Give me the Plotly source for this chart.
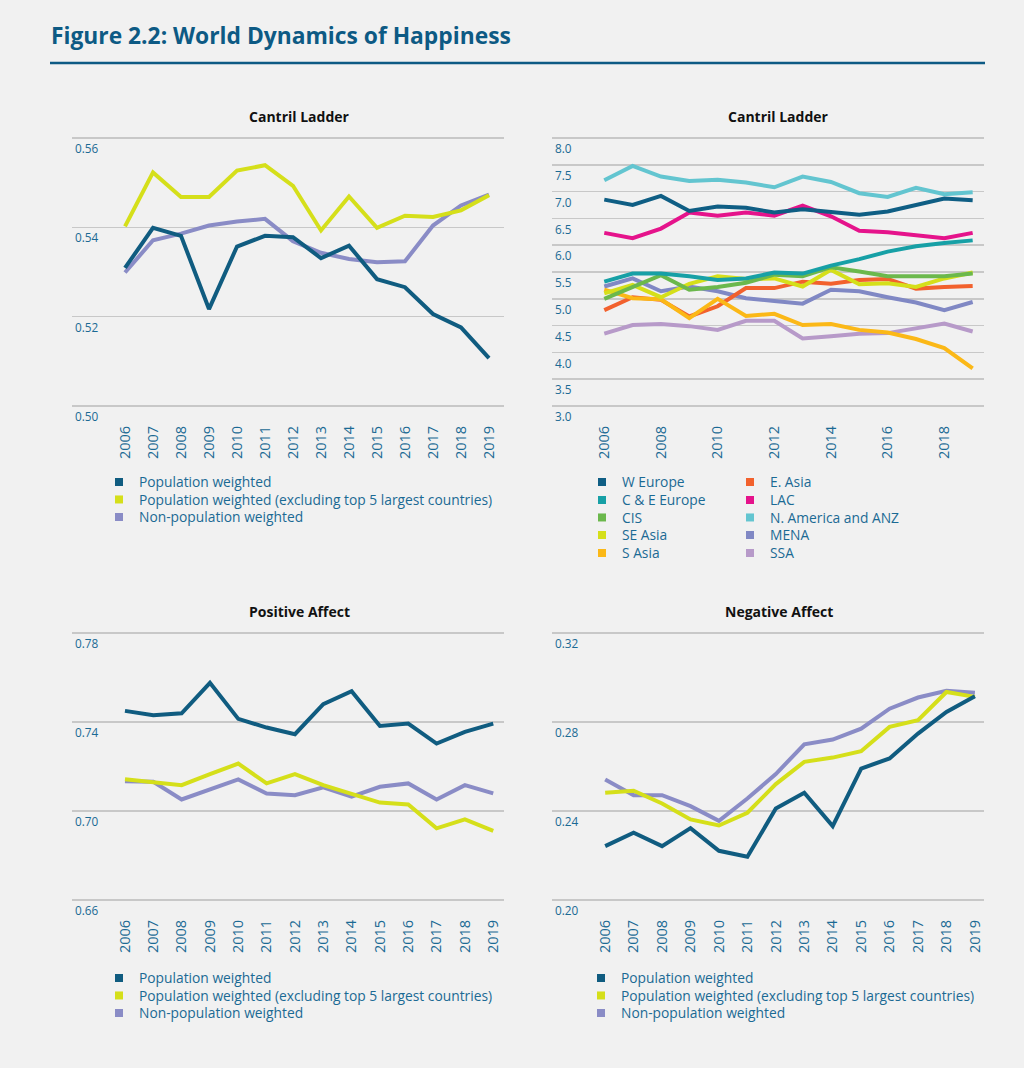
import plotly.graph_objects as go

W, H = 1024, 1068
FONT = "Open Sans"
TXT = "#1b6a94"
BG = "#f1f1f1"
GRID = "#c8c8c8"

years = list(range(2006, 2020))

# ---- Cantril Ladder (global) ----
cl_pop = [0.5309, 0.5399, 0.5381, 0.5217, 0.5357, 0.5381, 0.5378, 0.5331, 0.5359, 0.5284, 0.5266, 0.5206, 0.5176, 0.5107]
cl_excl = [0.5402, 0.5523, 0.5468, 0.5468, 0.5527, 0.5539, 0.5493, 0.5393, 0.5469, 0.5399, 0.5426, 0.5423, 0.5438, 0.5472]
cl_nonpop = [0.5299, 0.5371, 0.5386, 0.5404, 0.5413, 0.5419, 0.5369, 0.5343, 0.5329, 0.5322, 0.5324, 0.5404, 0.5449, 0.5473]
cl_ticks = [0.50, 0.52, 0.54, 0.56]

# ---- Cantril Ladder by region ----
w_europe = [6.85, 6.75, 6.92, 6.64, 6.72, 6.70, 6.61, 6.67, 6.62, 6.57, 6.63, 6.75, 6.87, 6.84]
ce_europe = [5.32, 5.47, 5.47, 5.42, 5.35, 5.38, 5.49, 5.47, 5.62, 5.74, 5.88, 5.98, 6.04, 6.09]
cis = [5.00, 5.23, 5.44, 5.17, 5.22, 5.30, 5.45, 5.42, 5.59, 5.51, 5.42, 5.42, 5.42, 5.47]
se_asia = [5.10, 5.26, 5.03, 5.28, 5.42, 5.37, 5.38, 5.23, 5.54, 5.27, 5.29, 5.22, 5.38, 5.49]
s_asia = [5.17, 5.01, 4.99, 4.64, 5.00, 4.68, 4.72, 4.51, 4.53, 4.42, 4.37, 4.25, 4.08, 3.70]
e_asia = [4.79, 5.03, 4.98, 4.67, 4.86, 5.20, 5.20, 5.32, 5.28, 5.35, 5.37, 5.19, 5.22, 5.24]
lac = [6.23, 6.13, 6.31, 6.61, 6.55, 6.61, 6.55, 6.74, 6.54, 6.27, 6.24, 6.18, 6.13, 6.23]
nam_anz = [7.21, 7.48, 7.28, 7.20, 7.22, 7.17, 7.08, 7.28, 7.18, 6.97, 6.90, 7.07, 6.95, 6.99]
mena = [5.23, 5.38, 5.14, 5.23, 5.14, 5.01, 4.96, 4.91, 5.17, 5.14, 5.03, 4.93, 4.79, 4.94]
ssa = [4.35, 4.51, 4.53, 4.49, 4.42, 4.59, 4.59, 4.26, 4.30, 4.35, 4.36, 4.45, 4.54, 4.39]
region_ticks = [3.0, 3.5, 4.0, 4.5, 5.0, 5.5, 6.0, 6.5, 7.0, 7.5, 8.0]
region_xticks = [2006, 2008, 2010, 2012, 2014, 2016, 2018]

# ---- Positive Affect ----
pa_pop = [0.7450, 0.7430, 0.7439, 0.7576, 0.7414, 0.7375, 0.7345, 0.7480, 0.7538, 0.7382, 0.7393, 0.7303, 0.7356, 0.7393]
pa_excl = [0.7143, 0.7128, 0.7116, 0.7166, 0.7213, 0.7124, 0.7166, 0.7116, 0.7076, 0.7038, 0.7029, 0.6922, 0.6962, 0.6911]
pa_nonpop = [0.7134, 0.7131, 0.7052, 0.7097, 0.7142, 0.7079, 0.7071, 0.7106, 0.7064, 0.7109, 0.7124, 0.7052, 0.7116, 0.7079]
pa_ticks = [0.66, 0.70, 0.74, 0.78]

# ---- Negative Affect ----
na_pop = [0.2242, 0.2302, 0.2242, 0.2323, 0.2221, 0.2194, 0.2411, 0.2482, 0.2332, 0.2591, 0.2636, 0.2748, 0.2845, 0.2916]
na_excl = [0.2482, 0.2491, 0.2434, 0.2362, 0.2335, 0.2392, 0.2521, 0.2621, 0.2640, 0.2669, 0.2778, 0.2808, 0.2935, 0.2913]
na_nonpop = [0.2542, 0.2471, 0.2471, 0.2422, 0.2356, 0.2456, 0.2566, 0.2700, 0.2721, 0.2770, 0.2860, 0.2910, 0.2940, 0.2931]
na_ticks = [0.20, 0.24, 0.28, 0.32]

global_names = ["Population weighted",
                "Population weighted (excluding top 5 largest countries)",
                "Non-population weighted"]
global_colors = ["#105c80", "#d5df1a", "#8a8cc6"]

region_names_col1 = ["W Europe", "C & E Europe", "CIS", "SE Asia", "S Asia"]
region_names_col2 = ["E. Asia", "LAC", "N. America and ANZ", "MENA", "SSA"]
region_colors_col1 = ["#0f5e84", "#17a0a6", "#6bb84c", "#d5df1a", "#fbb817"]
region_colors_col2 = ["#f2612d", "#e5138b", "#63c5d0", "#8088c4", "#b79ac9"]

fig = go.Figure()

def px_x(p):
    return p / W

def px_y(p):
    return 1 - p / H

LW = 4.0

def lid(n):
    return "legend" if n == 1 else f"legend{n}"

def add_panel(ax, series, colors, legend_entries):
    xa = "x" if ax == 1 else f"x{ax}"
    ya = "y" if ax == 1 else f"y{ax}"
    for vals, c in reversed(list(zip(series, colors))):
        fig.add_trace(go.Scatter(x=years, y=vals, mode="lines",
                                 line=dict(color=c, width=LW),
                                 xaxis=xa, yaxis=ya, showlegend=False,
                                 hoverinfo="skip"))
    for name, c, lg in legend_entries:
        fig.add_trace(go.Scatter(x=[None], y=[None], mode="markers",
                                 marker=dict(symbol="square", size=8, color=c),
                                 name=name, xaxis=xa, yaxis=ya,
                                 showlegend=True, legend=lg))

# one legend per legend entry, so that row spacing can match the reference
add_panel(1, [cl_pop, cl_excl, cl_nonpop], global_colors,
          [(n, c, lid(1 + i)) for i, (n, c) in enumerate(zip(global_names, global_colors))])
region_entries = []
for i in range(5):
    region_entries.append((region_names_col1[i], region_colors_col1[i], lid(4 + i)))
for i in range(5):
    region_entries.append((region_names_col2[i], region_colors_col2[i], lid(9 + i)))
add_panel(2, [w_europe, ce_europe, cis, se_asia, s_asia, e_asia, lac, nam_anz, mena, ssa],
          region_colors_col1 + region_colors_col2, region_entries)
add_panel(3, [pa_pop, pa_excl, pa_nonpop], global_colors,
          [(n, c, lid(14 + i)) for i, (n, c) in enumerate(zip(global_names, global_colors))])
add_panel(4, [na_pop, na_excl, na_nonpop], global_colors,
          [(n, c, lid(17 + i)) for i, (n, c) in enumerate(zip(global_names, global_colors))])

# plot areas in pixels (gridline extent); padded by EDGE px so edge gridlines show
EDGE = 2
left_px = (72, 504)
right_px = (552, 984)
top_px = (138, 406)
bot_px = (633, 900)

def xdom(px):
    return [px_x(px[0]), px_x(px[1])]

def ydom(px):
    return [px_y(px[1] + EDGE), px_y(px[0] - EDGE)]

def yrange(ticks, px):
    lo, hi = ticks[0], ticks[-1]
    pad = (hi - lo) / (px[1] - px[0]) * EDGE
    return [lo - pad, hi + pad]

def xaxis(px, rng, ticks, anchor):
    return dict(domain=xdom(px), range=rng, anchor=anchor, tickmode="array",
                tickvals=ticks, ticktext=[str(t) for t in ticks],
                tickangle=-90, showgrid=False, zeroline=False, showline=False,
                ticks="", ticklabelstandoff=14, automargin=False,
                tickfont=dict(family=FONT, size=14.5, color=TXT), fixedrange=True)

def yaxis(px, ticks, fmt, anchor):
    return dict(domain=ydom(px), range=yrange(ticks, px), anchor=anchor,
                tickmode="array", tickvals=ticks,
                ticktext=[format(t, fmt) for t in ticks],
                showgrid=True, gridcolor=GRID, gridwidth=1.5,
                zeroline=False, showline=False, ticks="",
                ticklabelposition="inside", ticklabelshift=11,
                ticklabeloverflow="allow", automargin=False,
                tickfont=dict(family=FONT, size=11.8, color=TXT), fixedrange=True)

fig.update_layout(
    xaxis=xaxis(left_px, [2004.107, 2019.536], years, "y"),
    yaxis=yaxis(top_px, cl_ticks, ".2f", "x"),
    xaxis2=xaxis(right_px, [2004.155, 2019.40], region_xticks, "y2"),
    yaxis2=yaxis(top_px, region_ticks, ".1f", "x2"),
    xaxis3=xaxis(left_px, [2004.13, 2019.38], years, "y3"),
    yaxis3=yaxis(bot_px, pa_ticks, ".2f", "x3"),
    xaxis4=xaxis(right_px, [2004.13, 2019.32], years, "y4"),
    yaxis4=yaxis(bot_px, na_ticks, ".2f", "x4"),
)

def legend(xp, yp):
    return dict(x=px_x(xp), y=px_y(yp), xanchor="left", yanchor="middle",
                xref="paper", yref="paper",
                bgcolor="rgba(0,0,0,0)", borderwidth=0,
                font=dict(family=FONT, size=13.8, color=TXT),
                itemwidth=30, tracegroupgap=0, traceorder="normal")

legend_layout = {}
left_rows = [482, 499.5, 517]
bottom_rows = [978, 995.5, 1013]
region_rows = [482, 500, 517.5, 535, 553]
for i, yy in enumerate(left_rows):
    legend_layout[lid(1 + i)] = legend(99, yy)
for i, yy in enumerate(region_rows):
    legend_layout[lid(4 + i)] = legend(582, yy)
for i, yy in enumerate(region_rows):
    legend_layout[lid(9 + i)] = legend(730, yy)
for i, yy in enumerate(bottom_rows):
    legend_layout[lid(14 + i)] = legend(99, yy)
for i, yy in enumerate(bottom_rows):
    legend_layout[lid(17 + i)] = legend(581, yy)
fig.update_layout(**legend_layout)

TITLE_FONT = dict(family=FONT, size=14, color="#111111")
annotations = [
    dict(text="<b>Figure 2.2: World Dynamics of Happiness</b>", x=px_x(49), y=px_y(36),
         xanchor="left", yanchor="middle", showarrow=False,
         font=dict(family=FONT, size=22.8, color="#0d5a84")),
    dict(text="<b>Cantril Ladder</b>", x=px_x(299), y=px_y(116), xanchor="center",
         yanchor="middle", showarrow=False, font=TITLE_FONT),
    dict(text="<b>Cantril Ladder</b>", x=px_x(778), y=px_y(116), xanchor="center",
         yanchor="middle", showarrow=False, font=TITLE_FONT),
    dict(text="<b>Positive Affect</b>", x=px_x(299), y=px_y(611), xanchor="center",
         yanchor="middle", showarrow=False, font=TITLE_FONT),
    dict(text="<b>Negative Affect</b>", x=px_x(779), y=px_y(611), xanchor="center",
         yanchor="middle", showarrow=False, font=TITLE_FONT),
]
for a in annotations:
    a["xref"] = "paper"
    a["yref"] = "paper"

fig.update_layout(
    width=W, height=H, autosize=False,
    margin=dict(l=0, r=0, t=0, b=0, pad=0, autoexpand=False),
    paper_bgcolor=BG, plot_bgcolor=BG,
    font=dict(family=FONT, color=TXT),
    annotations=annotations,
    shapes=[dict(type="line", xref="paper", yref="paper",
                 x0=px_x(50), x1=px_x(985), y0=px_y(63), y1=px_y(63),
                 line=dict(color="#0d5a84", width=2.5))],
    hovermode=False,
)

fig.write_html("out.html", config={"displayModeBar": False, "staticPlot": True},
               post_script="document.body.style.margin='0';document.body.style.background='%s';" % BG)
